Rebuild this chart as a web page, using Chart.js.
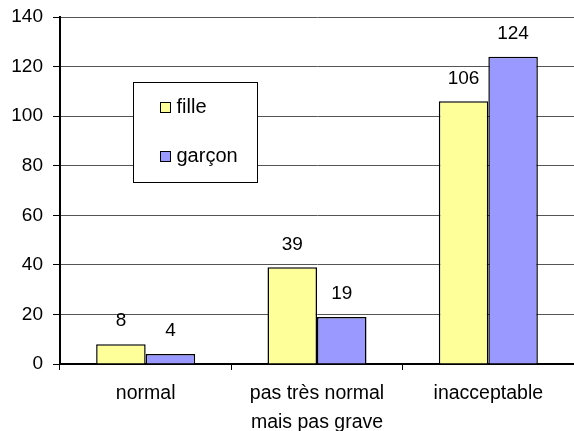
<!DOCTYPE html>
<html>
<head>
<meta charset="utf-8">
<script src="https://cdn.jsdelivr.net/npm/chart.js@4.4.0/dist/chart.umd.min.js"></script>
<style>
  html, body { margin: 0; padding: 0; background: #fff; }
  canvas { display: block; }
</style>
</head>
<body>
<canvas id="chart" width="574" height="431"></canvas>
<script>
const categories = ["normal", ["pas très normal", "mais pas grave"], "inacceptable"];
const filleValues = [8, 39, 106];
const garconValues = [4, 19, 124];
const yTicks = [0, 20, 40, 60, 80, 100, 120, 140];

const FONT = '"Liberation Sans", Arial, sans-serif';

// values above the bars
const valueLabels = {
    id: "valueLabels",
    afterDatasetsDraw(chart) {
        const ctx = chart.ctx;
        ctx.save();
        ctx.font = "19px " + FONT;
        ctx.fillStyle = "#000";
        ctx.textAlign = "center";
        ctx.textBaseline = "middle";
        chart.data.datasets.forEach((ds, i) => {
            chart.getDatasetMeta(i).data.forEach((bar, j) => {
                ctx.fillText(ds.data[j], bar.x, bar.y - 23);
            });
        });
        ctx.restore();
    }
};

// boxed legend sitting inside the plot
const boxLegend = {
    id: "boxLegend",
    afterDatasetsDraw(chart) {
        const ctx = chart.ctx;
        const a = chart.chartArea;
        const x = a.left + 73.5, y = a.top + 65.5, w = 124, h = 100;
        ctx.save();
        ctx.fillStyle = "#fff";
        ctx.fillRect(x, y, w, h);
        ctx.strokeStyle = "#000";
        ctx.lineWidth = 1;
        ctx.strokeRect(x, y, w, h);
        ctx.font = "20px " + FONT;
        ctx.textBaseline = "middle";
        chart.data.datasets.forEach((ds, i) => {
            const cy = y + 25 + i * 49;
            ctx.fillStyle = ds.backgroundColor;
            ctx.fillRect(x + 27, cy - 5, 10, 10);
            ctx.strokeRect(x + 27, cy - 5, 10, 10);
            ctx.fillStyle = "#000";
            ctx.fillText(ds.label, x + 43, cy);
        });
        ctx.restore();
    }
};

new Chart(document.getElementById("chart"), {
    type: "bar",
    data: {
        labels: categories,
        datasets: [{
            label: "fille",
            data: filleValues,
            backgroundColor: "#FFFF99",
            borderColor: "#000",
            borderWidth: 1.5,
            categoryPercentage: 0.578,
            barPercentage: 1
        }, {
            label: "garçon",
            data: garconValues,
            backgroundColor: "#9999FF",
            borderColor: "#000",
            borderWidth: 1.5,
            categoryPercentage: 0.578,
            barPercentage: 1
        }]
    },
    options: {
        responsive: false,
        animation: false,
        devicePixelRatio: 1,
        layout: { padding: { top: 17, right: 0, bottom: 0, left: 0 } },
        plugins: {
            legend: { display: false },
            tooltip: { enabled: false }
        },
        scales: {
            x: {
                afterFit: s => { s.height = 67; s.paddingLeft = 0; s.paddingRight = 0; },
                grid: { drawOnChartArea: false, drawTicks: true, tickLength: 6, color: "#000" },
                border: { color: "#000", width: 2 },
                ticks: { color: "#000", padding: 9, font: { family: FONT, size: 19.5, lineHeight: 1.5 } }
            },
            y: {
                min: 0,
                max: 140,
                afterFit: s => { s.width = 60; s.paddingTop = 0; s.paddingBottom = 0; },
                afterBuildTicks: s => { s.ticks = yTicks.map(v => ({ value: v })); },
                grid: { color: "#555", lineWidth: 1, tickLength: 7, tickColor: "#000" },
                border: { color: "#000", width: 2 },
                ticks: { color: "#000", padding: 10, font: { family: FONT, size: 19 } }
            }
        }
    },
    plugins: [valueLabels, boxLegend]
});
</script>
</body>
</html>
